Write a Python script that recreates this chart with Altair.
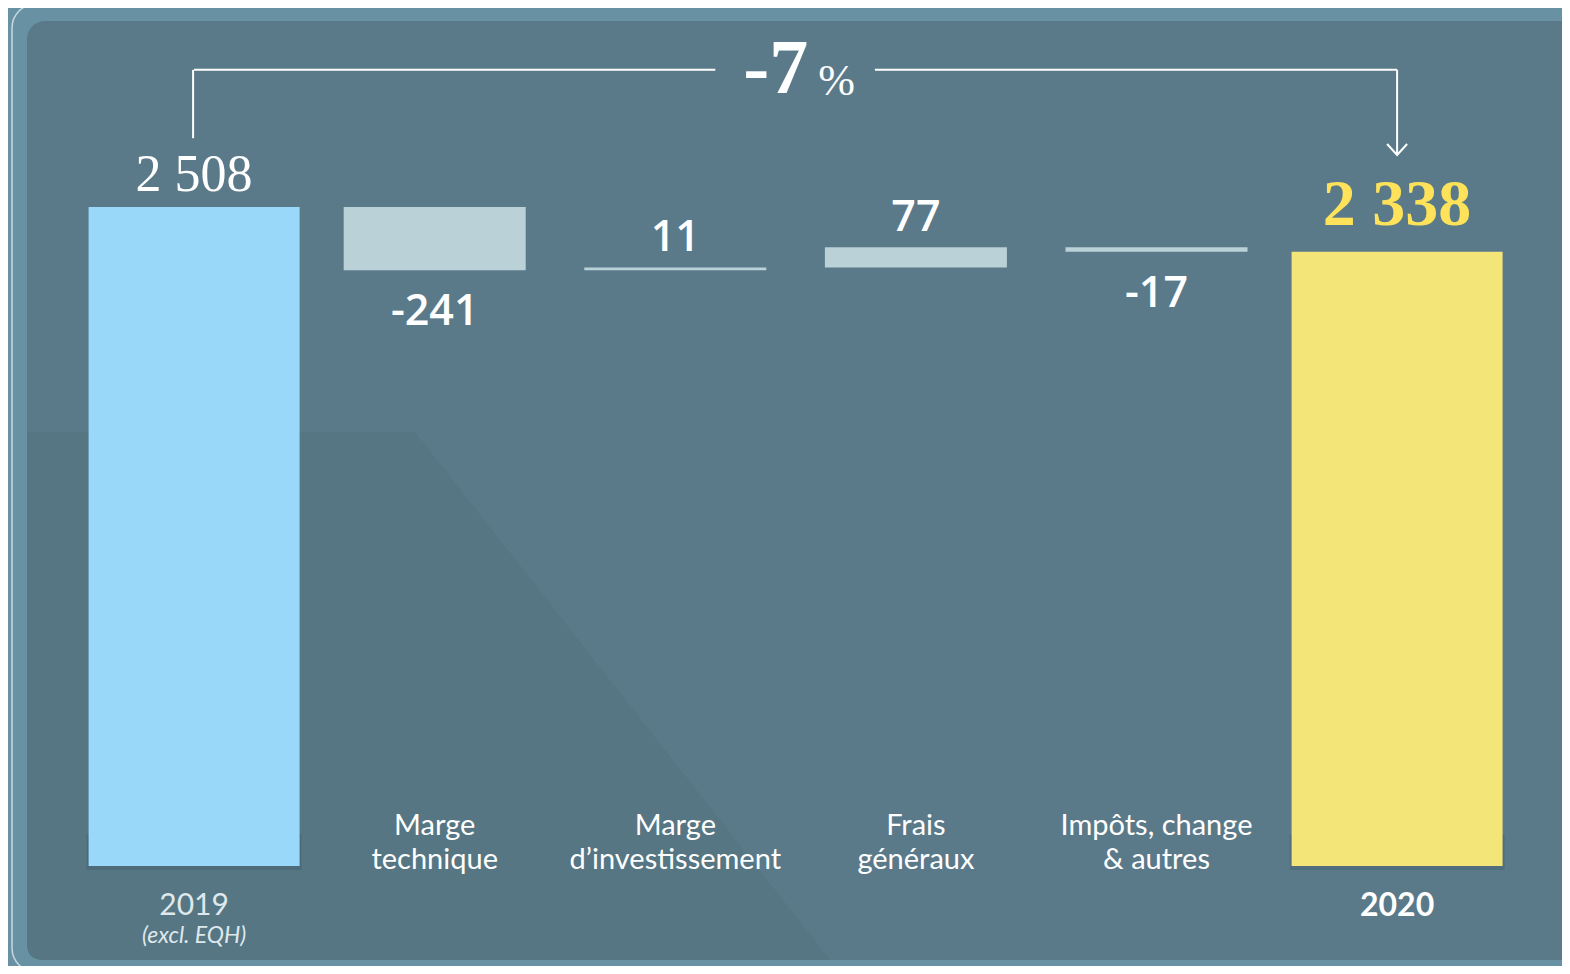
import altair as alt
import pandas as pd

# ---- data ----
categories = ["2019", "Marge technique", "Marge d’investissement", "Frais généraux",
              "Impôts, change & autres", "2020"]
axis_labels = ["2019", "Marge\ntechnique", "Marge\nd’investissement", "Frais\ngénéraux",
               "Impôts, change\n& autres", "2020"]
values = [2508, -241, 11, 77, -17, 2338]
value_labels = ["2 508", "-241", "11", "77", "-17", "2 338"]
kinds = ["start", "delta", "delta", "delta", "delta", "end"]
change_label = "-7"
change_unit = "%"
sub_label = "(excl. EQH)"

# ---- waterfall table ----
rows = []
running = 0
for c, al, v, lab, k in zip(categories, axis_labels, values, value_labels, kinds):
    if k == "delta":
        s, e = running, running + v
        running = e
    else:
        s, e = 0, v
        running = v
    rows.append(dict(cat=c, axis=al, value=v, label=lab, kind=k, start=s, end=e,
                     top=max(s, e), bottom=min(s, e)))
df = pd.DataFrame(rows)

# annotation levels (in value units)
bracket_level = 3030
tip_start = 2770
tip_end = 2706

W, H = 1554, 958
xs = alt.Scale(domain=categories, range=[65.8, 1509.4], paddingInner=0, paddingOuter=0)
ys = alt.Scale(domain=[-380.6, 3265.4], nice=False, zero=False)

X = alt.X("cat:N", scale=xs, axis=None, sort=categories)
base = alt.Chart(df)
one = alt.Data(values=[{}])

# ---- decoration ----
frame_line = alt.Chart(one).mark_rect(filled=False, color="#c6d9e1", strokeWidth=1.5,
                                      cornerRadius=24).encode(
    x=alt.value(4), x2=alt.value(3000), y=alt.value(-4), y2=alt.value(964))
panel = alt.Chart(one).mark_rect(cornerRadius=18, color="#5a7a8a").encode(
    x=alt.value(19), x2=alt.value(1700), y=alt.value(13), y2=alt.value(952))
shade = alt.Chart(one).mark_point(
    shape="M19,424L407,424L822,952L35,952Q19,952,19,936Z", size=4, filled=True,
    color="#557682", opacity=1, strokeWidth=0).encode(x=alt.value(0), y=alt.value(0))

color = alt.Color("kind:N", scale=alt.Scale(domain=["start", "delta", "end"],
                                            range=["#99d8f9", "#bad1d8", "#f3e578"]),
                  legend=None)

shadow = base.transform_filter("datum.kind != 'delta'").mark_bar(
    width=215, color="#46606e", opacity=0.45, yOffset=4).encode(
    x=X, y=alt.Y("start:Q", scale=ys, axis=None), y2=alt.Y2Datum(120))
total_bars = base.transform_filter("datum.kind != 'delta'").mark_bar(width=211).encode(
    x=X, y=alt.Y("start:Q", scale=ys, axis=None), y2="end:Q", color=color)
delta_bars = base.transform_filter("datum.kind == 'delta'").mark_bar(width=182).encode(
    x=X, y=alt.Y("start:Q", scale=ys, axis=None), y2="end:Q", color=color)

start_lab = base.transform_filter("datum.kind == 'start'").mark_text(
    font="Liberation Serif", fontSize=52, color="white", baseline="alphabetic", dy=-16).encode(
    x=X, y=alt.Y("top:Q", scale=ys), text="label:N")
end_lab = base.transform_filter("datum.kind == 'end'").mark_text(
    font="Liberation Serif", fontWeight="bold", fontSize=66, color="#fde25a",
    baseline="alphabetic", dy=-27).encode(
    x=X, y=alt.Y("top:Q", scale=ys), text="label:N")
pos_lab = base.transform_filter("datum.kind == 'delta' && datum.value > 0").mark_text(
    font="Open Sans", fontWeight=600, fontSize=43, color="white", baseline="alphabetic",
    dy=-16).encode(x=X, y=alt.Y("top:Q", scale=ys), text="label:N")
neg_lab = base.transform_filter("datum.kind == 'delta' && datum.value < 0").mark_text(
    font="Open Sans", fontWeight=600, fontSize=43, color="white", baseline="alphabetic",
    dy=55).encode(x=X, y=alt.Y("bottom:Q", scale=ys), text="label:N")

cat_lab = base.transform_filter("datum.kind == 'delta'").mark_text(
    font="Lato", fontSize=29, color="white", baseline="alphabetic", dy=-31,
    lineBreak="\n", lineHeight=34).encode(x=X, y=alt.YDatum(0), text="axis:N")
y19_lab = base.transform_filter("datum.kind == 'start'").mark_text(
    font="Lato", fontSize=30, color="#dfe8ec", baseline="alphabetic", dy=49).encode(
    x=X, y=alt.YDatum(0), text="cat:N")
sub_lab = base.transform_filter("datum.kind == 'start'").mark_text(
    font="Lato", fontStyle="italic", fontSize=23, color="#dfe8ec", baseline="alphabetic",
    dy=77).encode(x=X, y=alt.YDatum(0), text=alt.value(sub_label))
y20_lab = base.transform_filter("datum.kind == 'end'").mark_text(
    font="Lato", fontWeight="bold", fontSize=32, color="white", baseline="alphabetic",
    dy=50).encode(x=X, y=alt.YDatum(0), text="cat:N")

# ---- bracket annotation ----
seg1 = alt.Chart(one).mark_rule(color="white", strokeWidth=2, x2Offset=40).encode(
    x=alt.XDatum(categories[0], type="nominal"), x2=alt.X2Datum(categories[2]),
    y=alt.YDatum(bracket_level))
seg2 = alt.Chart(one).mark_rule(color="white", strokeWidth=2, xOffset=-41).encode(
    x=alt.XDatum(categories[3], type="nominal"), x2=alt.X2Datum(categories[5]),
    y=alt.YDatum(bracket_level))
vert1 = alt.Chart(one).mark_rule(color="white", strokeWidth=2, xOffset=-1).encode(
    x=alt.XDatum(categories[0], type="nominal"), y=alt.YDatum(bracket_level),
    y2=alt.Y2Datum(tip_start))
vert2 = alt.Chart(one).mark_rule(color="white", strokeWidth=2).encode(
    x=alt.XDatum(categories[5], type="nominal"), y=alt.YDatum(bracket_level),
    y2=alt.Y2Datum(tip_end))
arrow = alt.Chart(one).mark_point(shape="M-10,-11L0,0L10,-11", size=4, filled=False,
                                  color="white", strokeWidth=2, opacity=1).encode(
    x=alt.XDatum(categories[5], type="nominal"), y=alt.YDatum(tip_end))
pct_big = alt.Chart(one).mark_text(font="Liberation Serif", fontWeight="bold", fontSize=78,
                                   color="white", align="right", baseline="alphabetic",
                                   dx=133, dy=23).encode(
    x=alt.XDatum(categories[2], type="nominal"), y=alt.YDatum(bracket_level),
    text=alt.value(change_label))
pct_small = alt.Chart(one).mark_text(font="Liberation Serif", fontSize=44, color="white",
                                     align="left", baseline="alphabetic", dx=143, dy=25).encode(
    x=alt.XDatum(categories[2], type="nominal"), y=alt.YDatum(bracket_level),
    text=alt.value(change_unit))

chart = alt.layer(
    frame_line, panel, shade, shadow, total_bars, delta_bars, start_lab, end_lab, pos_lab,
    neg_lab, cat_lab, y19_lab, sub_lab, y20_lab, seg1, seg2, vert1, vert2, arrow, pct_big,
    pct_small,
).properties(
    width=W, height=H, padding=0, autosize=alt.AutoSizeParams(type="none"),
    background="#6891a3",
).configure_view(stroke=None)

chart.save("out.html", embed_options={"renderer": "svg", "actions": False})
